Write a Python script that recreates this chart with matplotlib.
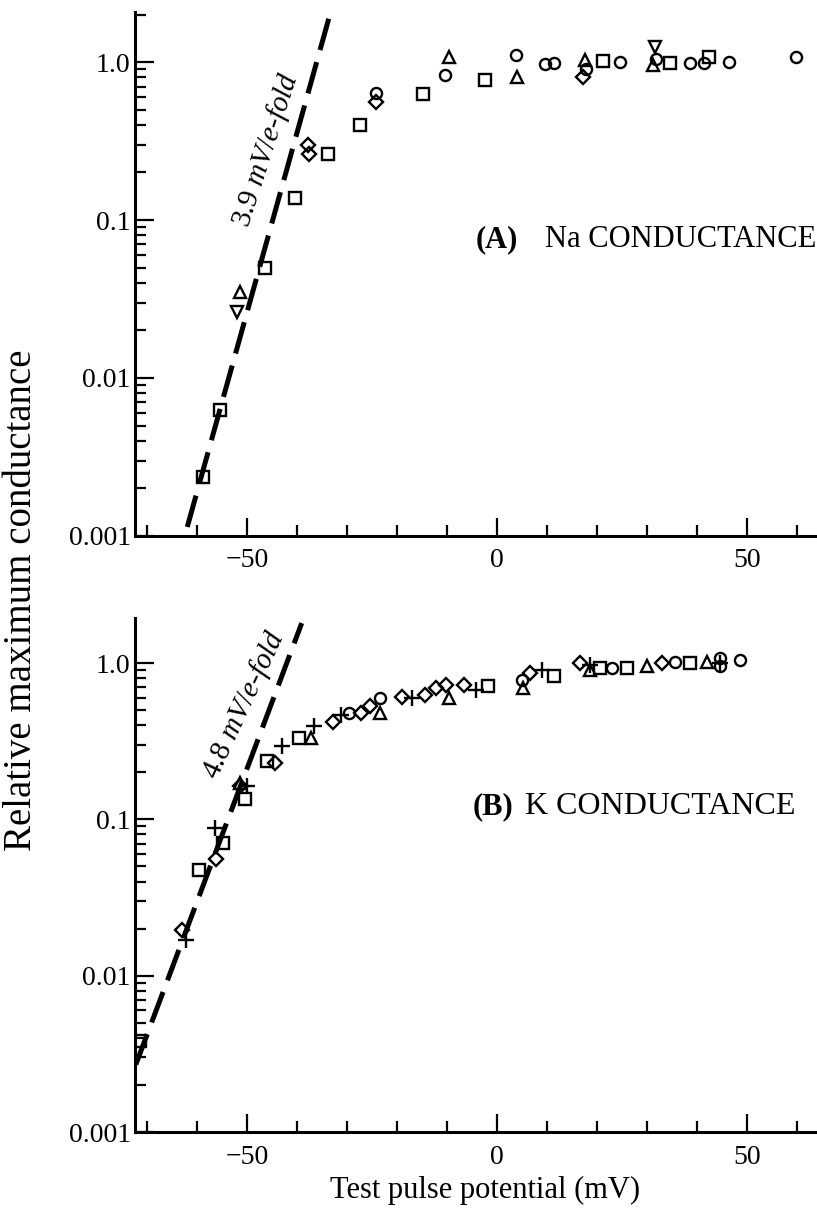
import matplotlib

matplotlib.use("Agg")
import matplotlib.pyplot as plt
from matplotlib.ticker import FixedLocator, MultipleLocator, LogLocator, NullFormatter

plt.rcParams["font.family"] = ["Liberation Serif", "DejaVu Serif"]
plt.rcParams["mathtext.fontset"] = "custom"
plt.rcParams["mathtext.rm"] = "Liberation Serif"
plt.rcParams["mathtext.it"] = "Liberation Serif:italic"

# Na conductance (panel A)
na_sq_v = [-58.9, -55.5, -46.5, -40.5, -33.9, -27.5, -14.9, -2.4, 21.1, 34.6, 42.3]
na_sq_g = [0.00235, 0.0063, 0.050, 0.137, 0.262, 0.40, 0.625, 0.77, 1.01, 0.98, 1.08]
na_tri_v = [-51.5, -9.7, 3.9, 17.6, 31.2]
na_tri_g = [0.0352, 1.07, 0.81, 1.03, 0.96]
na_tdn_v = [-52.1, 31.6]
na_tdn_g = [0.0263, 1.25]
na_dia_v = [-37.9, -37.7, -24.3, 17.2]
na_dia_g = [0.30, 0.26, 0.56, 0.81]
na_circ_v = [-24.3, -10.5, 3.8, 9.6, 11.3, 17.8, 24.5, 31.8, 38.6, 41.4, 46.3, 59.8]
na_circ_g = [0.64, 0.83, 1.11, 0.97, 0.99, 0.91, 1.0, 1.05, 0.98, 0.98, 1.0, 1.08]
na_fit_v = [-62.0, -33.6]
na_fit_g = [0.00114, 1.93]

# K conductance (panel B)
k_sq_v = [-71.5, -59.6, -54.9, -50.5, -46.1, -39.7, -1.9, 11.3, 20.5, 26.0, 38.5]
k_sq_g = [0.0038, 0.0473, 0.071, 0.134, 0.235, 0.33, 0.714, 0.82, 0.93, 0.93, 1.0]
k_dia_v = [-63.1, -56.2, -51.5, -44.4, -32.9, -27.2, -25.5, -19.1, -14.4, -12.3,
           -10.3, -6.6, 6.5, 16.5, 33.0]
k_dia_g = [0.0196, 0.0556, 0.163, 0.229, 0.42, 0.478, 0.527, 0.61, 0.626, 0.69,
           0.72, 0.72, 0.86, 1.0, 1.0]
k_plus_v = [-62.3, -56.5, -50.1, -43.1, -36.6, -31.2, -17.1, -4.3, 8.9, 18.5, 44.5]
k_plus_g = [0.0168, 0.0885, 0.163, 0.293, 0.393, 0.467, 0.596, 0.673, 0.9, 0.97, 1.0]
k_tri_v = [-51.5, -37.3, -23.5, -9.7, 5.2, 18.5, 30.0, 42.0]
k_tri_g = [0.17, 0.33, 0.478, 0.596, 0.69, 0.9, 0.95, 1.02]
k_circ_v = [-29.6, -23.5, 4.9, 23.0, 35.5, 44.5, 44.5, 48.5]
k_circ_g = [0.478, 0.596, 0.78, 0.93, 1.02, 1.08, 0.95, 1.05]
k_fit_v = [-72.3, -39.1]
k_fit_g = [0.0027, 1.80]

ytick_vals = [0.001, 0.01, 0.1, 1.0]
ytick_labels = ["0.001", "0.01", "0.1", "1.0"]
xtick_vals = [-50, 0, 50]
xtick_labels = ["\u221250", "0", "50"]

fig = plt.figure(figsize=(8.17, 12.18), dpi=100)
ax_na = fig.add_axes([0.165, 0.560, 0.835, 0.430])
ax_k = fig.add_axes([0.165, 0.0706, 0.835, 0.4220])

mk = dict(linestyle="none", mfc="none", mec="black", mew=1.7, ms=8)


def style_axis(ax, ytop):
    ax.set_yscale("log")
    ax.set_xlim(-72.5, 64)
    ax.set_ylim(0.001, ytop)
    for s in ["top", "right"]:
        ax.spines[s].set_visible(False)
    for s in ["left", "bottom"]:
        ax.spines[s].set_linewidth(2.2)
    ax.xaxis.set_major_locator(FixedLocator(xtick_vals))
    ax.set_xticklabels(xtick_labels)
    ax.xaxis.set_minor_locator(MultipleLocator(10))
    ax.yaxis.set_major_locator(FixedLocator(ytick_vals))
    ax.set_yticklabels(ytick_labels)
    ax.yaxis.set_minor_locator(LogLocator(base=10, subs=range(2, 10)))
    ax.yaxis.set_minor_formatter(NullFormatter())
    ax.tick_params(axis="x", which="major", direction="in", length=13, width=1.6,
                   labelsize=20, pad=9)
    ax.tick_params(axis="x", which="minor", direction="in", length=8, width=1.6)
    ax.tick_params(axis="y", which="major", direction="in", length=14, width=1.6,
                   labelsize=20, pad=3)
    ax.tick_params(axis="y", which="minor", direction="in", length=8, width=1.6)


# panel A
style_axis(ax_na, 2.07)
ax_na.plot(na_fit_v, na_fit_g, color="black", lw=3.6, dashes=(6.5, 2.5),
           solid_capstyle="butt")
ax_na.plot(na_sq_v, na_sq_g, marker="s", **mk)
ax_na.plot(na_tri_v, na_tri_g, marker="^", **mk)
ax_na.plot(na_tdn_v, na_tdn_g, marker="v", **mk)
ax_na.plot(na_dia_v, na_dia_g, marker="D", **dict(mk, ms=7))
ax_na.plot(na_circ_v, na_circ_g, marker="o", **mk)
ax_na.text(-46.2, 0.277, "3.9 $\\mathit{mV/e}$-$\\mathit{fold}$", fontsize=21,
           rotation=72, rotation_mode="anchor", ha="center", va="center")
ax_na.text(-4.4, 0.075, "(A)", fontsize=22, fontweight="bold", va="center")
ax_na.text(9.6, 0.075, "Na CONDUCTANCE", fontsize=22, va="center")

# panel B
style_axis(ax_k, 1.94)
ax_k.plot(k_fit_v, k_fit_g, color="black", lw=3.6, dashes=(6.5, 2.5),
          solid_capstyle="butt")
ax_k.plot(k_sq_v, k_sq_g, marker="s", **mk)
ax_k.plot(k_dia_v, k_dia_g, marker="D", **dict(mk, ms=7))
ax_k.plot(k_plus_v, k_plus_g, marker="+", **dict(mk, ms=12))
ax_k.plot(k_tri_v, k_tri_g, marker="^", **mk)
ax_k.plot(k_circ_v, k_circ_g, marker="o", **mk)
ax_k.text(-50.6, 0.538, "4.8 $\\mathit{mV/e}$-$\\mathit{fold}$", fontsize=21,
          rotation=65, rotation_mode="anchor", ha="center", va="center")
ax_k.text(-4.9, 0.121, "(B)", fontsize=22, fontweight="bold", va="center")
ax_k.text(5.6, 0.121, "K CONDUCTANCE", fontsize=23, va="center")

fig.text(0.594, 0.023, "Test pulse potential (mV)", fontsize=22, ha="center",
         va="center")
fig.text(0.026, 0.507, "Relative maximum conductance", fontsize=28, rotation=90,
         ha="center", va="center")

fig.savefig("out.png", dpi=100)
